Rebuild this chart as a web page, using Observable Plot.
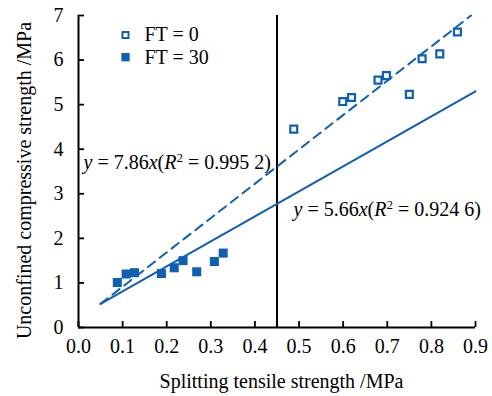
<!DOCTYPE html>
<html><head><meta charset="utf-8">
<script src="https://cdn.jsdelivr.net/npm/d3@7"></script>
<script src="https://cdn.jsdelivr.net/npm/@observablehq/plot@0.6"></script>
<style>body{margin:0;background:#fff;} svg{display:block;} svg text{font-family:'Liberation Serif','Times New Roman',serif;}</style>
</head><body><div id="chart"></div>
<script>
// FT = 0 (open squares)
const ft0X = [0.488, 0.599, 0.619, 0.679, 0.698, 0.750, 0.779, 0.819, 0.859];
const ft0Y = [4.45, 5.07, 5.16, 5.55, 5.65, 5.23, 6.03, 6.14, 6.63];
// FT = 30 (filled squares)
const ft30X = [0.088, 0.108, 0.127, 0.188, 0.217, 0.237, 0.268, 0.308, 0.328];
const ft30Y = [1.01, 1.20, 1.23, 1.21, 1.34, 1.50, 1.25, 1.48, 1.67];
// trend line end points as drawn
const fit0X = [0.05, 0.89];
const fit0Y = [0.53, 7.0];
const fit30X = [0.05, 0.90];
const fit30Y = [0.53, 5.30];
const dividerX = [0.45];
const xTicks = [0, 0.1, 0.2, 0.3, 0.4, 0.5, 0.6, 0.7, 0.8, 0.9];
const yTicks = [0, 1, 2, 3, 4, 5, 6, 7];
const seriesNames = ["FT = 0", "FT = 30"];
const eqLabels = ["y = 7.86x(R2 = 0.995 2)", "y = 5.66x(R2 = 0.924 6)"];
const xTitle = "Splitting tensile strength /MPa";
const yTitle = "Unconfined compressive strength /MPa";

const blue = "#0f5fb3";
const font = "'Liberation Serif', 'Times New Roman', serif";

const pts0 = ft0X.map((x, i) => ({x, y: ft0Y[i]}));
const pts30 = ft30X.map((x, i) => ({x, y: ft30Y[i]}));
const line0 = fit0X.map((x, i) => ({x, y: fit0Y[i]}));
const line30 = fit30X.map((x, i) => ({x, y: fit30Y[i]}));

const chart = Plot.plot({
  width: 492,
  height: 396,
  marginLeft: 78,
  marginRight: 17,
  marginTop: 15,
  marginBottom: 69,
  style: {fontFamily: font, fontSize: "20px", color: "#000", background: "#fff"},
  x: {domain: [0, 0.9]},
  y: {domain: [0, 7]},
  marks: [
    Plot.axisX(xTicks, {tickSize: -6, tickPadding: 17, tickFormat: d3.format(".1f"), fontSize: 20, fontFamily: font, strokeWidth: 1.8, label: null}),
    Plot.axisY(yTicks, {tickSize: -6, tickPadding: 21, tickFormat: d3.format("d"), fontSize: 20, fontFamily: font, strokeWidth: 1.8, label: null}),
    Plot.ruleY([0], {x1: 0, x2: 0.9, stroke: "#000", strokeWidth: 2}),
    Plot.ruleX([0], {y1: 0, y2: 7, stroke: "#000", strokeWidth: 2}),
    Plot.ruleX(dividerX, {y1: 0, y2: 7, stroke: "#000", strokeWidth: 2}),
    Plot.line(line0, {x: "x", y: "y", stroke: blue, strokeWidth: 2, strokeDasharray: "9,6"}),
    Plot.line(line30, {x: "x", y: "y", stroke: blue, strokeWidth: 2}),
    Plot.dot(pts0, {x: "x", y: "y", symbol: "square", r: 3.9, stroke: blue, strokeWidth: 2.2, fill: "#fff"}),
    Plot.dot(pts30, {x: "x", y: "y", symbol: "square", r: 5.1, fill: blue, stroke: "none"}),
    // legend
    Plot.dot([seriesNames[0]], {frameAnchor: "top-left", dx: 47, dy: 19.5, symbol: "square", r: 3.4, stroke: blue, strokeWidth: 2, fill: "#fff"}),
    Plot.dot([seriesNames[1]], {frameAnchor: "top-left", dx: 47, dy: 41.7, symbol: "square", r: 4.7, fill: blue, stroke: "none"}),
    Plot.text([seriesNames[0]], {text: d => d, frameAnchor: "top-left", dx: 66, dy: 19.5, textAnchor: "start", lineAnchor: "middle", fontSize: 20, fill: "#000"}),
    Plot.text([seriesNames[1]], {text: d => d, frameAnchor: "top-left", dx: 66, dy: 41.7, textAnchor: "start", lineAnchor: "middle", fontSize: 20, fill: "#000"}),
    // equations
    Plot.text([eqLabels[0]], {text: d => d, frameAnchor: "top-left", dx: 5, dy: 146.6, textAnchor: "start", lineAnchor: "middle", fontSize: 20, fill: "#000"}),
    Plot.text([eqLabels[1]], {text: d => d, frameAnchor: "top-left", dx: 215, dy: 193.6, textAnchor: "start", lineAnchor: "middle", fontSize: 20, fill: "#000"}),
    // axis titles
    Plot.text([xTitle], {text: d => d, frameAnchor: "bottom", dx: 4.5, dy: 54, textAnchor: "middle", lineAnchor: "middle", fontSize: 20, fill: "#000"}),
    Plot.text([yTitle], {text: d => d, frameAnchor: "left", dx: -54, dy: 9, rotate: -90, textAnchor: "middle", lineAnchor: "middle", fontSize: 20, fill: "#000"})
  ]
});
document.getElementById("chart").appendChild(chart);

// rich formatting of the regression equations (italic variables, superscript)
chart.querySelectorAll("text").forEach(t => {
  const s = t.textContent;
  const m = s.match(/^y = ([\d.]+)x\(R2 = ([\d. ]+)\)$/);
  if (!m) return;
  t.textContent = "";
  const NS = "http://www.w3.org/2000/svg";
  const add = (str, opts = {}) => {
    const sp = document.createElementNS(NS, "tspan");
    sp.textContent = str;
    for (const k in opts) sp.setAttribute(k, opts[k]);
    t.appendChild(sp);
  };
  add("y", {"font-style": "italic"});
  add(" = " + m[1]);
  add("x", {"font-style": "italic"});
  add("(");
  add("R", {"font-style": "italic"});
  add("2", {"font-size": "13", dy: "-7"});
  add(" = " + m[2] + ")", {dy: "7"});
});
</script>
</body></html>
